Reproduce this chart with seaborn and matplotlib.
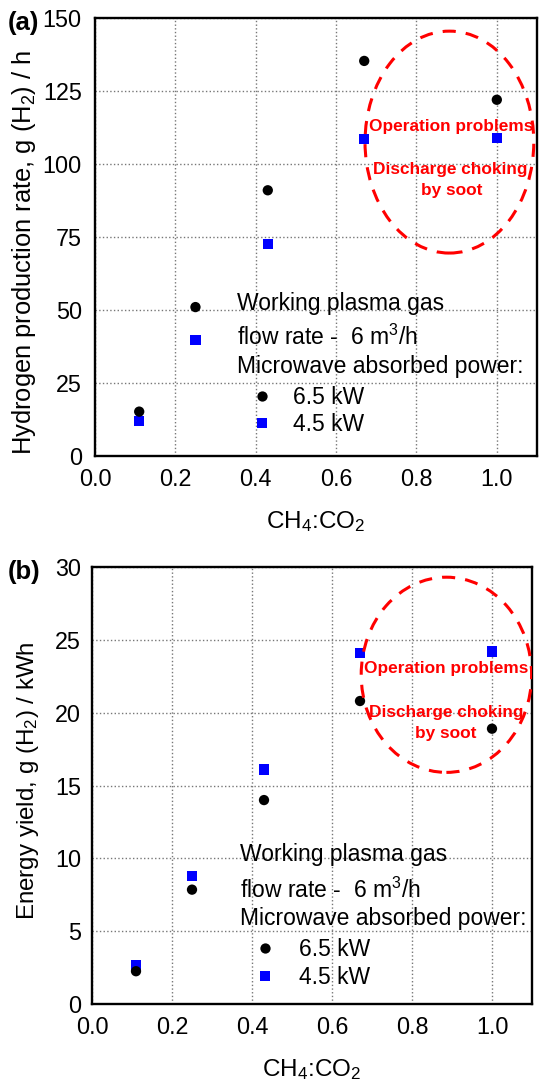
import numpy as np
import pandas as pd
import matplotlib
matplotlib.use("Agg")
import matplotlib.pyplot as plt
import seaborn as sns
from matplotlib.patches import Ellipse
from matplotlib.lines import Line2D
from matplotlib.ticker import MultipleLocator

# ---------------- data ----------------
ratio = [0.11, 0.25, 0.43, 0.67, 1.0]
powers = ["4.5 kW", "6.5 kW"]
h2_rate_65 = [15.2, 51.0, 91.0, 135.3, 122.0]
h2_rate_45 = [12.0, 39.8, 72.5, 108.6, 108.9]
yield_65 = [2.25, 7.85, 14.0, 20.8, 18.9]
yield_45 = [2.7, 8.8, 16.1, 24.1, 24.2]

xticks = [0.0, 0.2, 0.4, 0.6, 0.8, 1.0]
yticks_a = [0, 25, 50, 75, 100, 125, 150]
yticks_b = [0, 5, 10, 15, 20, 25, 30]

def make_df(v45, v65):
    return pd.DataFrame({
        "ratio": ratio + ratio,
        "value": v45 + v65,
        "power": [powers[0]] * len(ratio) + [powers[1]] * len(ratio),
    })

df_a = make_df(h2_rate_45, h2_rate_65)
df_b = make_df(yield_45, yield_65)

# ---------------- style ----------------
sns.set_style("white")
plt.rcParams["font.family"] = ["Liberation Sans", "DejaVu Sans"]
plt.rcParams["mathtext.default"] = "regular"
plt.rcParams["mathtext.fontset"] = "custom"
plt.rcParams["mathtext.rm"] = "Liberation Sans"
plt.rcParams["mathtext.it"] = "Liberation Sans:italic"
plt.rcParams["mathtext.bf"] = "Liberation Sans:bold"
plt.rcParams["text.color"] = "black"
plt.rcParams["axes.labelcolor"] = "black"
plt.rcParams["xtick.color"] = "black"
plt.rcParams["ytick.color"] = "black"

FS = 16.8
palette = {"6.5 kW": "black", "4.5 kW": "blue"}
markers = {"6.5 kW": "o", "4.5 kW": "s"}

fig = plt.figure(figsize=(5.39, 10.83), dpi=100)
ax_a = fig.add_axes([95 / 539, 1 - 456 / 1083, 442 / 539, 438 / 1083])
ax_b = fig.add_axes([92 / 539, 1 - 1004 / 1083, 440 / 539, 437 / 1083])


def style_axes(ax, yticks, ylim, yminor, ylabel, ylfs, ylcoords, ypad):
    ax.set_xlim(0, 1.1)
    ax.set_ylim(*ylim)
    ax.set_xticks(xticks)
    ax.set_xticklabels([f"{t:.1f}" for t in xticks])
    ax.set_yticks(yticks)
    ax.set_yticklabels([str(t) for t in yticks])
    ax.xaxis.set_minor_locator(MultipleLocator(0.1))
    ax.yaxis.set_minor_locator(MultipleLocator(yminor))
    ax.tick_params(which="both", direction="in", top=False, right=False,
                   width=1.5, labelsize=FS, colors="black")
    ax.tick_params(axis="x", which="major", length=7, pad=9)
    ax.tick_params(axis="y", which="major", length=7, pad=ypad)
    ax.tick_params(which="minor", length=3.5)
    ax.grid(True, which="major", ls=":", color="#777777", lw=1.0)
    for sp in ax.spines.values():
        sp.set_linewidth(1.7)
        sp.set_color("black")
    ax.set_xlabel("CH$_4$:CO$_2$", fontsize=17.5, labelpad=13)
    ax.set_ylabel(ylabel, fontsize=ylfs)
    ax.yaxis.set_label_coords(*ylcoords)


def draw_panel(ax, df, ell, txt_pos, head_y, head_x, leg_anchor, hpad):
    sns.scatterplot(data=df, x="ratio", y="value", hue="power", style="power",
                    palette=palette, markers=markers, s=55, edgecolor="none",
                    linewidth=0, legend=False, ax=ax, zorder=3)
    e = Ellipse(ell[0], ell[1], ell[2], fill=False, edgecolor="red", lw=2.2,
                ls=(0, (4.3, 3.3)), zorder=4)
    ax.add_patch(e)
    for (x, y), t in zip(txt_pos, ["Operation problems", "Discharge choking", "by soot"]):
        ax.text(x, y, t, ha="center", va="center", color="red",
                fontweight="bold", fontsize=12.4, zorder=5)
    heads = ["Working plasma gas", "flow rate -  6 m$^3$/h",
             "Microwave absorbed power:"]
    for y, t in zip(head_y, heads):
        ax.text(head_x, y, t, transform=ax.transAxes, fontsize=16.5,
                va="baseline", ha="left")
    handles = [
        Line2D([], [], ls="none", marker="o", color="black", markersize=7.4,
               markeredgewidth=0),
        Line2D([], [], ls="none", marker="s", color="blue", markersize=6.8,
               markeredgewidth=0),
    ]
    ax.legend(handles, ["6.5 kW", "4.5 kW"], loc="upper left",
              bbox_to_anchor=leg_anchor, frameon=False, fontsize=16.5,
              handlelength=1.0, handletextpad=hpad, labelspacing=0.18,
              borderpad=0, borderaxespad=0)


style_axes(ax_a, yticks_a, (0, 150), 12.5,
           "Hydrogen production rate, g (H$_2$) / h", 18.4, (-0.13, 0.465), 9.5)
draw_panel(ax_a, df_a, ((0.882, 107.5), 0.42, 76),
           [(0.886, 113), (0.883, 98), (0.887, 90.8)],
           [0.333, 0.253, 0.189], 0.321, (0.351, 0.16), 0.85)

style_axes(ax_b, yticks_b, (0, 30), 2.5,
           "Energy yield, g (H$_2$) / kWh", 17.4, (-0.115, 0.51), 8)
draw_panel(ax_b, df_b, ((0.886, 22.6), 0.426, 13.4),
           [(0.885, 23.06), (0.885, 20.0), (0.885, 18.6)],
           [0.327, 0.243, 0.181], 0.336, (0.368, 0.15), 0.95)

fig.text(8 / 539, 1 - 23 / 1083, "(a)", fontsize=18.5, fontweight="bold", va="center", ha="left")
fig.text(8 / 539, 1 - 572 / 1083, "(b)", fontsize=18.5, fontweight="bold", va="center", ha="left")

fig.savefig("out.png", dpi=100)
